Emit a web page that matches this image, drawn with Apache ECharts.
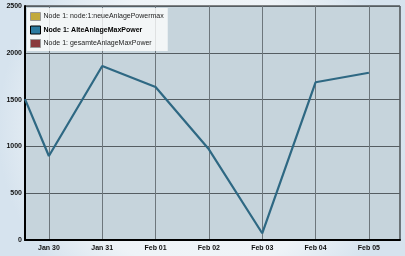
<!DOCTYPE html>
<html><head><meta charset="utf-8">
<script src="https://cdn.jsdelivr.net/npm/echarts@6/dist/echarts.min.js"></script>
<style>html,body{margin:0;padding:0;}#c{width:405px;height:256px;}</style>
</head><body><div id="c"></div>
<script>
var seriesNames = ['Node 1: node:1:neueAnlagePowermax', 'Node 1: AlteAnlageMaxPower', 'Node 1: gesamteAnlageMaxPower'];
var seriesColors = ['#c2aa3c', '#2b7aa0', '#8a3a3c'];
var times = ['2013-01-29T13:15:00', '2013-01-30T00:00:00', '2013-01-31T00:00:00', '2013-02-01T00:00:00', '2013-02-02T00:00:00', '2013-02-03T00:00:00', '2013-02-04T00:00:00', '2013-02-05T00:00:00'];
var alteValues = [1505, 897, 1859, 1635, 969, 72, 1685, 1787];
var neueValues = [];
var gesamteValues = [];
var yTicks = [0, 500, 1000, 1500, 2000, 2500];
var xMin = '2013-01-29T13:15:00';
var xMax = '2013-02-05T14:00:00';

function pairs(t, v) { return v.map(function (y, i) { return [t[i], y]; }); }

var chart = echarts.init(document.getElementById('c'));
chart.setOption({
  animation: false,
  backgroundColor: {
    type: 'radial', x: 0.5, y: 0.5, r: 0.8,
    colorStops: [{offset: 0, color: '#f4f7fa'}, {offset: 0.7, color: '#eef3f7'}, {offset: 1, color: '#d6e3ee'}]
  },
  grid: {left: 25, top: 6, right: 5, bottom: 16, show: true, backgroundColor: '#c6d4dc', borderColor: '#111', borderWidth: 1},
  legend: {
    orient: 'vertical', left: 27, top: 8, itemWidth: 10, itemHeight: 8, itemGap: 4.5,
    backgroundColor: 'rgba(255,255,255,0.78)', padding: [4, 4, 3, 3],
    icon: 'rect',
    textStyle: {fontFamily: 'Liberation Sans', fontSize: 7, color: '#222', padding: [0, 0, 0, -2]},
    data: [
      {name: seriesNames[0], itemStyle: {borderColor: '#999', borderWidth: 1}},
      {name: seriesNames[1], textStyle: {fontWeight: 'bold', color: '#000'}, itemStyle: {borderColor: '#000', borderWidth: 1}},
      {name: seriesNames[2], itemStyle: {borderColor: '#999', borderWidth: 1}}
    ]
  },
  xAxis: {
    type: 'time', min: xMin, max: xMax, minInterval: 86400000, maxInterval: 86400000,
    axisLine: {lineStyle: {color: '#000', width: 2}},
    axisTick: {show: false},
    splitLine: {show: true, lineStyle: {color: '#6d767c', width: 1}},
    axisLabel: {
      formatter: '{MMM} {dd}', showMinLabel: false, showMaxLabel: false,
      fontFamily: 'Liberation Sans', fontWeight: 'bold', fontSize: 7, color: '#111', margin: 5,
      hideOverlap: false
    }
  },
  yAxis: {
    type: 'value', min: yTicks[0], max: yTicks[yTicks.length - 1], interval: 500,
    axisLine: {show: true, lineStyle: {color: '#000', width: 2}},
    axisTick: {show: false},
    splitLine: {lineStyle: {color: '#555d62', width: 1}},
    axisLabel: {formatter: function (v) { return String(v); }, fontFamily: 'Liberation Sans', fontWeight: 'bold', fontSize: 7, color: '#111', margin: 3}
  },
  series: [
    {name: seriesNames[0], type: 'line', data: pairs(times, neueValues), color: seriesColors[0], symbol: 'none'},
    {name: seriesNames[1], type: 'line', data: pairs(times, alteValues), color: seriesColors[1], symbol: 'none',
      lineStyle: {color: '#2e6883', width: 2.2}},
    {name: seriesNames[2], type: 'line', data: pairs(times, gesamteValues), color: seriesColors[2], symbol: 'none'}
  ]
});
</script></body></html>
